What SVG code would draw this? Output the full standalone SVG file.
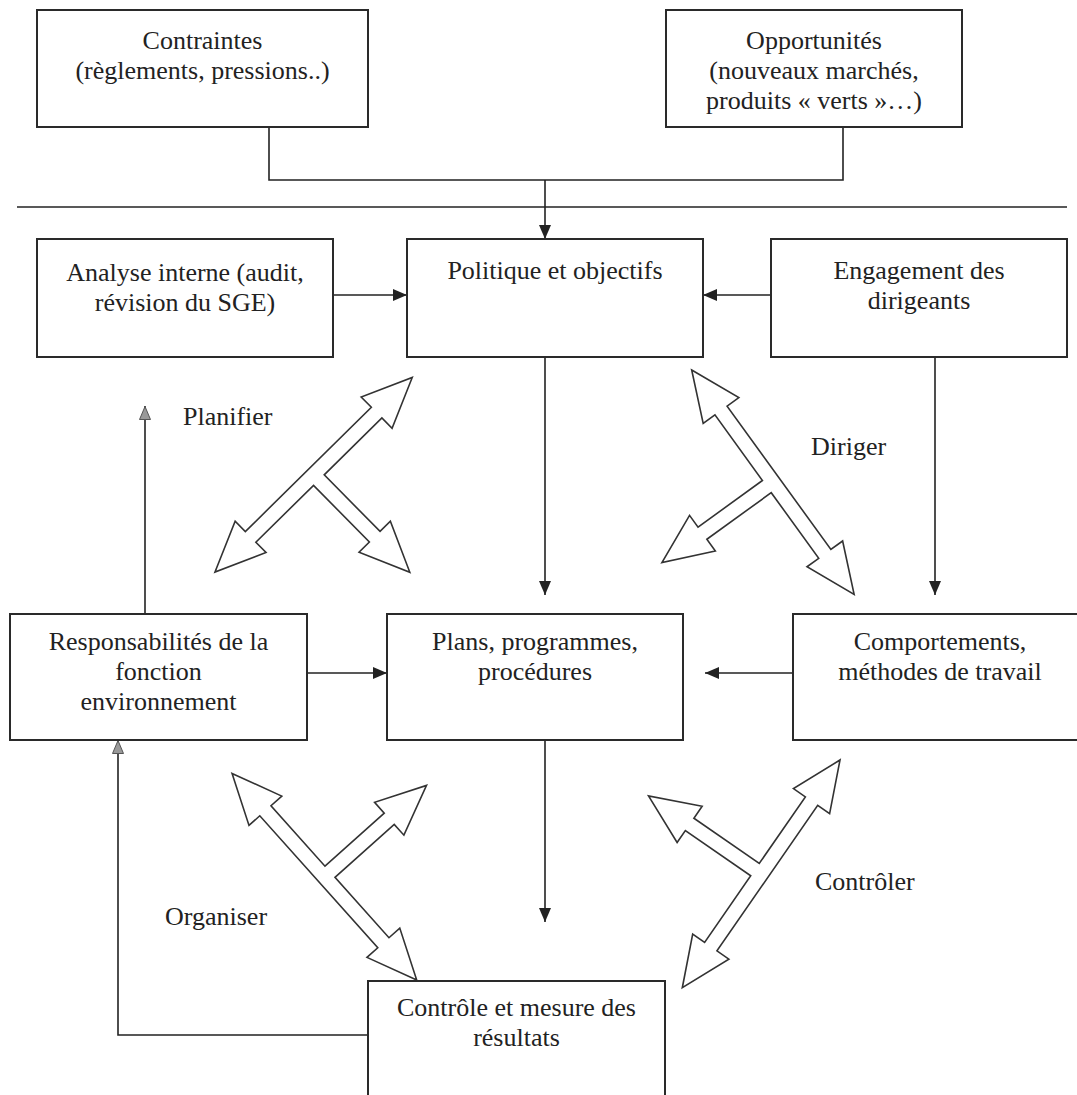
<svg xmlns="http://www.w3.org/2000/svg" width="1077" height="1095" viewBox="0 0 1077 1095">
<style>
.box{fill:#fff;stroke:#2a2a2a;stroke-width:2}
.t{font-family:"Liberation Serif","Times New Roman",serif;font-size:26px;fill:#222;text-anchor:middle}
.lbl{font-family:"Liberation Serif","Times New Roman",serif;font-size:26px;fill:#222}
.ln{fill:none;stroke:#222;stroke-width:1.6}
.hol{fill:#fff;stroke:#333;stroke-width:1.6;stroke-linejoin:miter}
</style>
<defs>
<marker id="ah" viewBox="0 0 14 12" refX="14" refY="6" markerWidth="14" markerHeight="12" markerUnits="userSpaceOnUse" orient="auto">
<path d="M0,0 L14,6 L0,12 Z" fill="#222"/>
</marker>
<marker id="ahg" viewBox="0 0 14 12" refX="14" refY="6" markerWidth="14" markerHeight="12" markerUnits="userSpaceOnUse" orient="auto">
<path d="M0.5,0.5 L13.5,6 L0.5,11.5 Z" fill="#999" stroke="#555" stroke-width="1"/>
</marker>
<path id="cross" d="M0,0 L50,-22 L50,-7.5 L227,-7.5 L227,-22 L277,0 L227,22 L227,7.5 L146,7.5 L146,87 L160.5,87 L138.5,137 L116.5,87 L131,87 L131,7.5 L50,7.5 L50,22 Z"/>
</defs>
<rect x="0" y="0" width="1077" height="1095" fill="#fff"/>

<g id="connectors">
<path class="ln" d="M269,127 V180 H843 V127"/>
<line class="ln" x1="545" y1="180" x2="545" y2="239" marker-end="url(#ah)"/>
<line class="ln" x1="17" y1="207" x2="1067" y2="207"/>
<line class="ln" x1="333" y1="295" x2="407" y2="295" marker-end="url(#ah)"/>
<line class="ln" x1="771" y1="295" x2="703" y2="295" marker-end="url(#ah)"/>
<line class="ln" x1="545" y1="357" x2="545" y2="595" marker-end="url(#ah)"/>
<line class="ln" x1="935" y1="357" x2="935" y2="595" marker-end="url(#ah)"/>
<line class="ln" x1="145" y1="614" x2="145" y2="406" marker-end="url(#ahg)"/>
<line class="ln" x1="307" y1="673" x2="387" y2="673" marker-end="url(#ah)"/>
<line class="ln" x1="793" y1="673" x2="705" y2="673" marker-end="url(#ah)"/>
<line class="ln" x1="545" y1="740" x2="545" y2="922" marker-end="url(#ah)"/>
<path class="ln" d="M368,1035 H118 V740" marker-end="url(#ahg)"/>
<use href="#cross" class="hol" transform="translate(215,572) rotate(-44.6)"/>
<use href="#cross" class="hol" transform="translate(691.7,370) rotate(54.1)"/>
<use href="#cross" class="hol" transform="translate(416.7,980) rotate(228.2)"/>
<use href="#cross" class="hol" transform="translate(840,760) rotate(124.7)"/>
</g>

<g id="contraintes">
<rect class="box" x="37" y="10" width="331" height="117"/>
<text class="t" x="202.5" y="49">Contraintes</text>
<text class="t" x="202.5" y="79">(règlements, pressions..)</text>
</g>
<g id="opportunites">
<rect class="box" x="666" y="10" width="296" height="117"/>
<text class="t" x="814" y="49">Opportunités</text>
<text class="t" x="814" y="79">(nouveaux marchés,</text>
<text class="t" x="814" y="109">produits « verts »…)</text>
</g>
<g id="analyse">
<rect class="box" x="37" y="239" width="296" height="118"/>
<text class="t" x="185" y="281">Analyse interne (audit,</text>
<text class="t" x="185" y="311">révision du SGE)</text>
</g>
<g id="politique">
<rect class="box" x="407" y="239" width="296" height="118"/>
<text class="t" x="555" y="279">Politique et objectifs</text>
</g>
<g id="engagement">
<rect class="box" x="771" y="239" width="296" height="118"/>
<text class="t" x="919" y="279">Engagement des</text>
<text class="t" x="919" y="309">dirigeants</text>
</g>
<g id="responsabilites">
<rect class="box" x="10" y="614" width="297" height="126"/>
<text class="t" x="158.5" y="650">Responsabilités de la</text>
<text class="t" x="158.5" y="680">fonction</text>
<text class="t" x="158.5" y="710">environnement</text>
</g>
<g id="plans">
<rect class="box" x="387" y="614" width="296" height="126"/>
<text class="t" x="535" y="650">Plans, programmes,</text>
<text class="t" x="535" y="680">procédures</text>
</g>
<g id="comportements">
<rect class="box" x="793" y="614" width="296" height="126"/>
<text class="t" x="940" y="650">Comportements,</text>
<text class="t" x="940" y="680">méthodes de travail</text>
</g>
<g id="controle">
<rect class="box" x="368" y="981" width="297" height="130"/>
<text class="t" x="516.5" y="1016">Contrôle et mesure des</text>
<text class="t" x="516.5" y="1046">résultats</text>
</g>
<g id="labels">
<text class="lbl" x="183" y="425">Planifier</text>
<text class="lbl" x="811" y="455">Diriger</text>
<text class="lbl" x="165" y="925">Organiser</text>
<text class="lbl" x="815" y="890">Contrôler</text>
</g>
</svg>
